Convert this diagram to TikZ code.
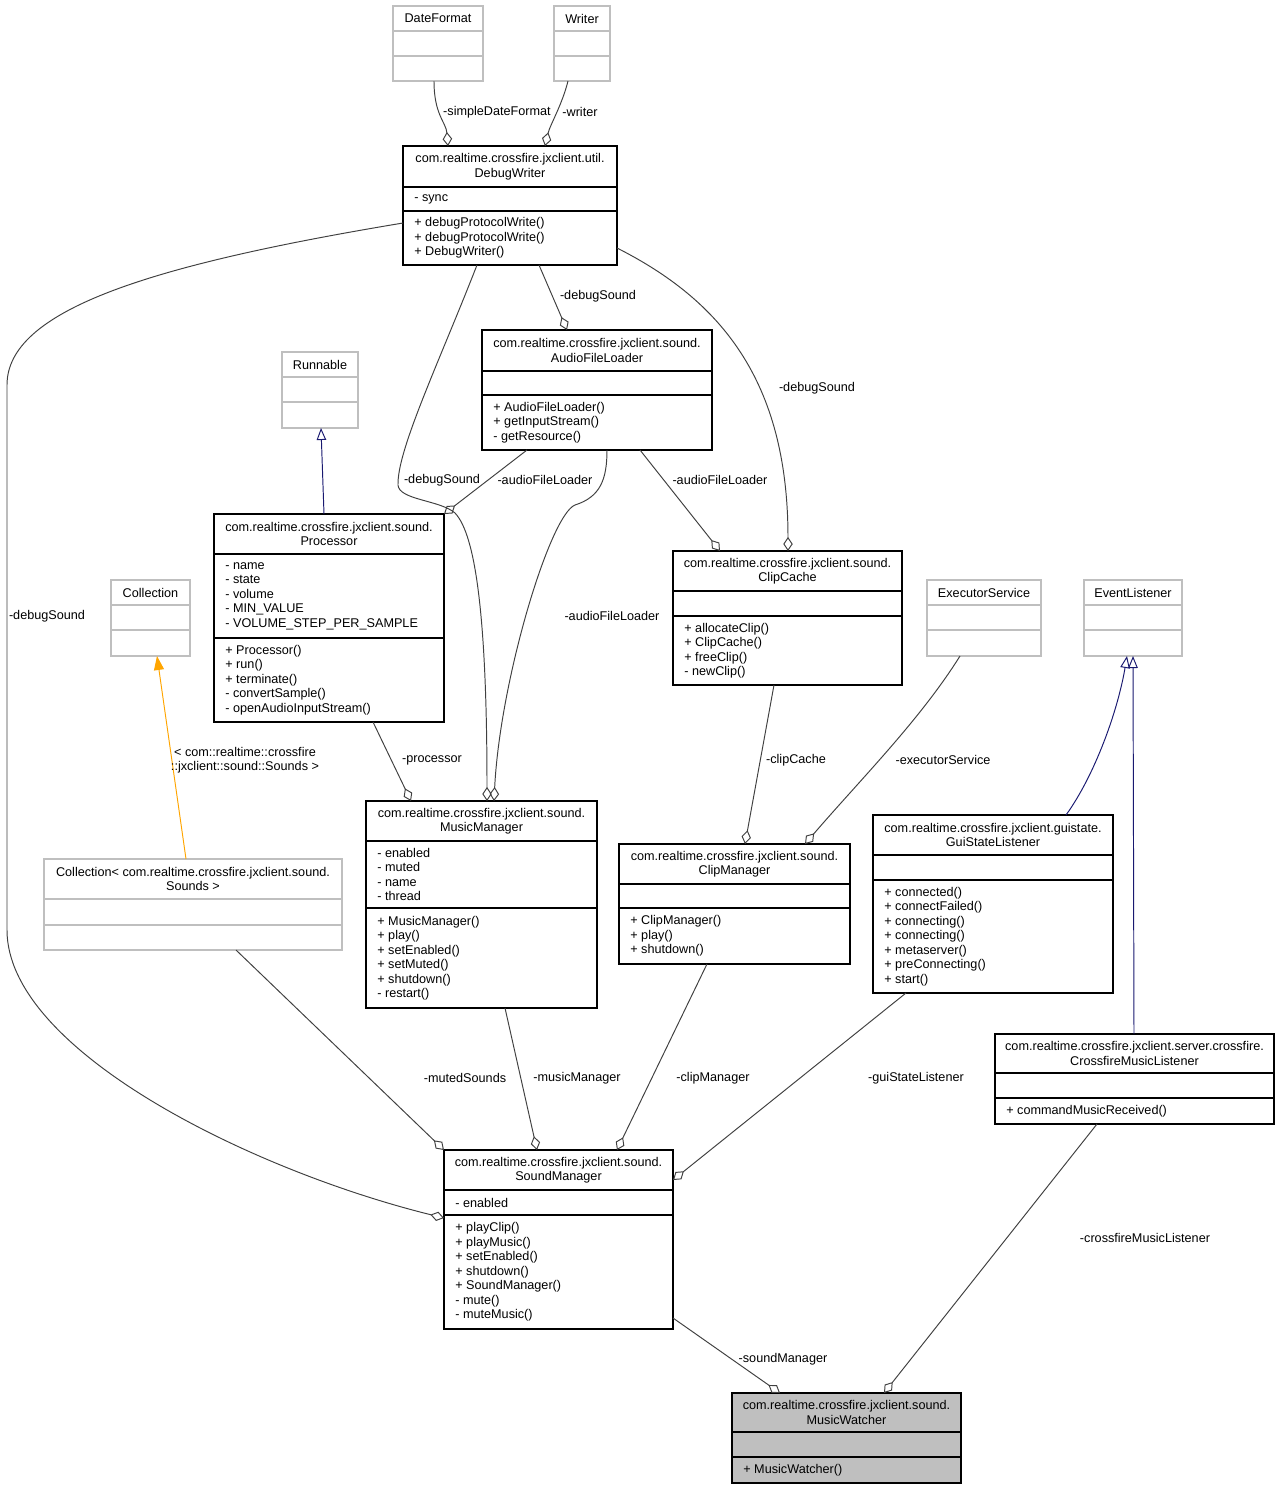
\documentclass[tikz,border=0pt]{standalone}
\usepackage{fontspec}
\setmainfont{Liberation Sans}
\usetikzlibrary{arrows.meta,calc}
\definecolor{edgegray}{HTML}{404040}
\definecolor{boxgray}{HTML}{BFBFBF}
\definecolor{inhblue}{HTML}{191970}
\definecolor{tmplorange}{HTML}{FFA500}
\newcommand\umlfont{\fontsize{7.2}{8.25}\selectfont}
% class frame: name, style, left, top, right, bottom, divider 1, divider 2
\newcommand\umlbox[8]{%
  \node[#2, minimum width={(#5-#3)*0.02cm}, minimum height={(#6-#4)*0.02cm}] (#1) at ({(#3+#5)/2},{(#4+#6)/2}) {};
  \coordinate (#1-d1) at (#3,#7);
  \coordinate (#1-d2) at (#3,#8);
  \draw[#2] (#1-d1) -- (#1.east |- #1-d1);
  \draw[#2] (#1-d2) -- (#1.east |- #1-d2);}
% class text: name, title, attributes, methods
\newcommand\umltext[4]{%
  \node[clstitle] (#1-t) at ($(#1.north)!0.5!(#1.north |- #1-d1)$) {#2};
  \node[member] (#1-a) at ($(#1-d1)!0.5!(#1-d2)$) {#3};
  \node[member] (#1-m) at ($(#1-d2)!0.5!(#1.south west)$) {#4};}
\tikzset{
  cls/.style={draw=black, line width=0.8pt, inner sep=0pt, outer sep=0pt},
  extcls/.style={draw=boxgray, line width=0.8pt, inner sep=0pt, outer sep=0pt},
  curcls/.style={draw=black, fill=boxgray, line width=0.8pt, inner sep=0pt, outer sep=0pt},
  clstitle/.style={font=\umlfont, align=center, inner sep=0pt},
  member/.style={font=\umlfont, align=left, anchor=west, xshift=0.22cm, inner sep=0pt},
  lbl/.style={font=\umlfont, inner sep=0pt},
  agg/.style={draw=edgegray, line width=0.55pt, -{Diamond[open, length=0.28cm, width=0.19cm]}},
  inh/.style={draw=inhblue, line width=0.55pt, -{Triangle[open, length=0.24cm, width=0.19cm]}},
  tmpl/.style={draw=tmplorange, line width=0.55pt, -{Triangle[length=0.28cm, width=0.2cm]}}
}

\begin{document}
\begin{tikzpicture}[x=0.02cm, y=-0.02cm]
\useasboundingbox (0,0) rectangle (1279,1489);

% Classes
\umlbox{df}{extcls}{393}{6}{483}{81}{31}{56}
\umltext{df}{DateFormat}{}{}
\umlbox{wr}{extcls}{554}{6}{610}{81}{31}{56}
\umltext{wr}{Writer}{}{}
\umlbox{dw}{cls}{403}{146}{617}{265}{187}{211}
\umltext{dw}{com.realtime.crossfire.jxclient.util.\\DebugWriter}{- sync}{+ debugProtocolWrite()\\+ debugProtocolWrite()\\+ DebugWriter()}
\umlbox{rn}{extcls}{282}{352}{358}{428}{377}{402}
\umltext{rn}{Runnable}{}{}
\umlbox{afl}{cls}{482}{330}{712}{450}{371}{395}
\umltext{afl}{com.realtime.crossfire.jxclient.sound.\\AudioFileLoader}{}{+ AudioFileLoader()\\+ getInputStream()\\- getResource()}
\umlbox{pr}{cls}{214}{514}{444}{722}{554}{638}
\umltext{pr}{com.realtime.crossfire.jxclient.sound.\\Processor}{- name\\- state\\- volume\\- MIN\_VALUE\\- VOLUME\_STEP\_PER\_SAMPLE}{+ Processor()\\+ run()\\+ terminate()\\- convertSample()\\- openAudioInputStream()}
\umlbox{cc}{cls}{673}{551}{902}{685}{591}{616}
\umltext{cc}{com.realtime.crossfire.jxclient.sound.\\ClipCache}{}{+ allocateClip()\\+ ClipCache()\\+ freeClip()\\- newClip()}
\umlbox{col}{extcls}{111}{580}{190}{656}{605}{630}
\umltext{col}{Collection}{}{}
\umlbox{es}{extcls}{927}{580}{1041}{656}{605}{630}
\umltext{es}{ExecutorService}{}{}
\umlbox{el}{extcls}{1084}{580}{1182}{656}{605}{630}
\umltext{el}{EventListener}{}{}
\umlbox{cs}{extcls}{44}{859}{342}{950}{899}{925}
\umltext{cs}{Collection< com.realtime.crossfire.jxclient.sound.\\Sounds >}{}{}
\umlbox{mm}{cls}{366}{801}{597}{1008}{841}{908}
\umltext{mm}{com.realtime.crossfire.jxclient.sound.\\MusicManager}{- enabled\\- muted\\- name\\- thread}{+ MusicManager()\\+ play()\\+ setEnabled()\\+ setMuted()\\+ shutdown()\\- restart()}
\umlbox{cm}{cls}{619}{844}{850}{964}{884}{908}
\umltext{cm}{com.realtime.crossfire.jxclient.sound.\\ClipManager}{}{+ ClipManager()\\+ play()\\+ shutdown()}
\umlbox{gsl}{cls}{873}{815}{1113}{993}{855}{880}
\umltext{gsl}{com.realtime.crossfire.jxclient.guistate.\\GuiStateListener}{}{+ connected()\\+ connectFailed()\\+ connecting()\\+ connecting()\\+ metaserver()\\+ preConnecting()\\+ start()}
\umlbox{cml}{cls}{995}{1034}{1274}{1124}{1073}{1098}
\umltext{cml}{com.realtime.crossfire.jxclient.server.crossfire.\\CrossfireMusicListener}{}{+ commandMusicReceived()}
\umlbox{sm}{cls}{444}{1150}{673}{1329}{1190}{1215}
\umltext{sm}{com.realtime.crossfire.jxclient.sound.\\SoundManager}{- enabled}{+ playClip()\\+ playMusic()\\+ setEnabled()\\+ shutdown()\\+ SoundManager()\\- mute()\\- muteMusic()}
\umlbox{mw}{curcls}{732}{1393}{961}{1483}{1432}{1457}
\umltext{mw}{com.realtime.crossfire.jxclient.sound.\\MusicWatcher}{}{+ MusicWatcher()}

% Aggregations
\draw[agg] (434,0 |- df.south) .. controls (434,115) and (446,122) .. (448,0 |- dw.north);
\draw[agg] (568,0 |- wr.south) .. controls (562,105) and (550,125) .. (545,0 |- dw.north);
\draw[agg] (539,0 |- dw.south) -- (567,0 |- afl.north);
\draw[agg] (dw.east |- 0,248) .. controls (720,300) and (788,380) .. (788,0 |- cc.north);
\draw[agg] (477,0 |- dw.south) .. controls (440,360) and (397,450) .. (398,485)
  .. controls (399,500) and (440,500) .. (455,513) .. controls (476,535) and (487,620) .. (487,0 |- mm.north);
\draw[agg] (dw.west |- 0,223) .. controls (150,265) and (7,310) .. (7,385) -- (7,930)
  .. controls (7,1050) and (250,1170) .. (sm.west |- 0,1218);
\draw[agg] (527,0 |- afl.south) -- (pr.north east);
\draw[agg] (607,0 |- afl.south) .. controls (607,480) and (600,497) .. (575,505)
  .. controls (550,515) and (500,680) .. (494,0 |- mm.north);
\draw[agg] (640,0 |- afl.south) -- (720,0 |- cc.north);
\draw[agg] (373,0 |- pr.south) -- (411,0 |- mm.north);
\draw[agg] (774,0 |- cc.south) -- (745,0 |- cm.north);
\draw[agg] (960,0 |- es.south) .. controls (920,720) and (860,780) .. (805,0 |- cm.north);
\draw[agg] (236,0 |- cs.south) -- (sm.north west);
\draw[agg] (505,0 |- mm.south) -- (537,0 |- sm.north);
\draw[agg] (707,0 |- cm.south) -- (617,0 |- sm.north);
\draw[agg] (906,0 |- gsl.south) -- (sm.east |- 0,1180);
\draw[agg] (sm.east |- 0,1318) -- (780,0 |- mw.north);
\draw[agg] (1097,0 |- cml.south) -- (884,0 |- mw.north);

% Inheritance
\draw[inh] (324,0 |- pr.north) -- (321,0 |- rn.south);
\draw[inh] (1066,0 |- gsl.north) .. controls (1095,775) and (1118,710) .. (1127,0 |- el.south);
\draw[inh] (1134,0 |- cml.north) -- (1133,0 |- el.south);
\draw[tmpl] (186,0 |- cs.north) -- (157,0 |- col.south);

% Labels
\node[lbl] (l1) at (497,112) {-simpleDateFormat};
\node[lbl] (l2) at (580,112) {-writer};
\node[lbl] (l3) at (598,296) {-debugSound};
\node[lbl] (l4) at (817,388) {-debugSound};
\node[lbl] (l5) at (442,480) {-debugSound};
\node[lbl] (l6) at (47,616) {-debugSound};
\node[lbl] (l7) at (545,480) {-audioFileLoader};
\node[lbl] (l8) at (612,616) {-audioFileLoader};
\node[lbl] (l9) at (720,480) {-audioFileLoader};
\node[lbl, align=center] (l10) at (245,760) {< com::realtime::crossfire\\::jxclient::sound::Sounds >};
\node[lbl] (l11) at (432,760) {-processor};
\node[lbl] (l12) at (796,760) {-clipCache};
\node[lbl] (l13) at (943,760) {-executorService};
\node[lbl] (l14) at (465,1078) {-mutedSounds};
\node[lbl] (l15) at (577,1078) {-musicManager};
\node[lbl] (l16) at (713,1078) {-clipManager};
\node[lbl] (l17) at (916,1078) {-guiStateListener};
\node[lbl] (l18) at (783,1359) {-soundManager};
\node[lbl] (l19) at (1145,1238) {-crossfireMusicListener};
\end{tikzpicture}
\end{document}
